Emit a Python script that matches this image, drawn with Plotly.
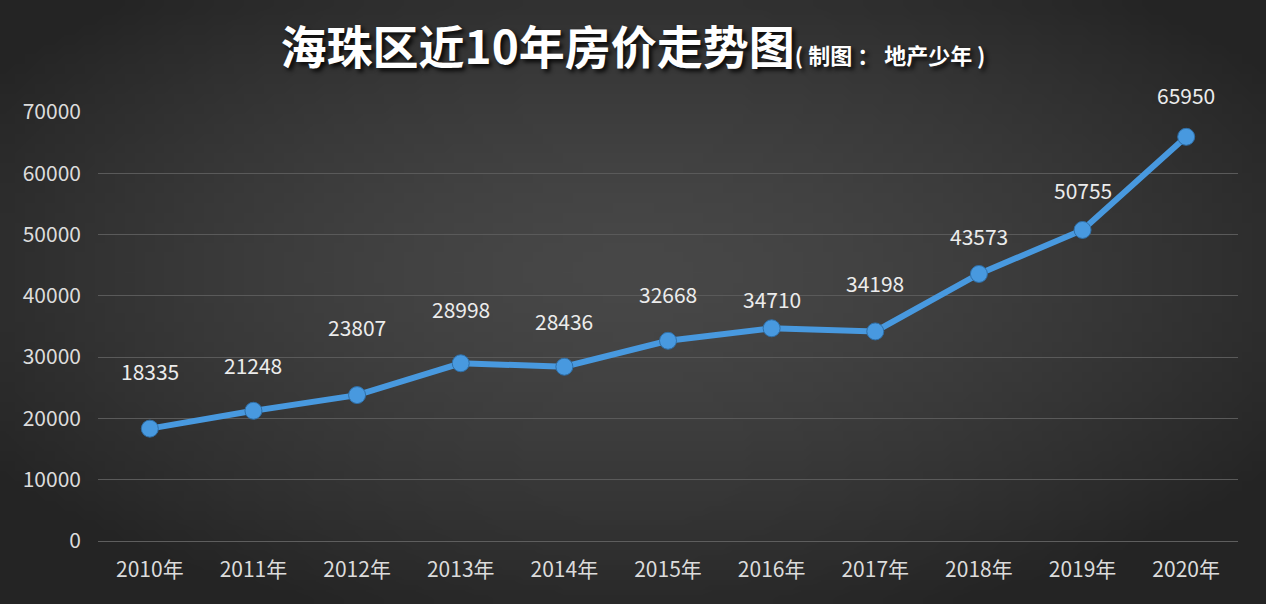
import base64, struct, zlib, math
import plotly.graph_objects as go

# ---- data ----
years = ["2010年", "2011年", "2012年", "2013年", "2014年", "2015年",
         "2016年", "2017年", "2018年", "2019年", "2020年"]
prices = [18335, 21248, 23807, 28998, 28436, 32668, 34710, 34198, 43573, 50755, 65950]
y_ticks = [0, 10000, 20000, 30000, 40000, 50000, 60000, 70000]

# label vertical offsets (px) – styling only
label_shift = [58, 46, 68, 54, 46, 47, 29, 48, 38, 40, 42]

W, H = 1266, 604
ML, MR, MT, MB = 98, 28, 112, 63

# ---- radial gradient background as inline PNG ----
def make_png(w, h):
    raw = bytearray()
    for j in range(h):
        raw.append(0)
        for i in range(w):
            dx = (i / (w - 1) - 0.5) / 0.62
            dy = (j / (h - 1) - 0.45) / 0.62
            d = min(1.0, math.sqrt(dx * dx + dy * dy))
            v = int(72 - (72 - 36) * d ** 1.5)
            raw += bytes((v, v, v))
    def chunk(t, data):
        c = struct.pack(">I", len(data)) + t + data
        return c + struct.pack(">I", zlib.crc32(t + data) & 0xffffffff)
    png = b"\x89PNG\r\n\x1a\n"
    png += chunk(b"IHDR", struct.pack(">IIBBBBB", w, h, 8, 2, 0, 0, 0))
    png += chunk(b"IDAT", zlib.compress(bytes(raw), 9))
    png += chunk(b"IEND", b"")
    return "data:image/png;base64," + base64.b64encode(png).decode()

bg = make_png(127, 61)
FONT = "Noto Sans CJK SC, sans-serif"

fig = go.Figure()
fig.add_trace(go.Scatter(
    x=years, y=prices, mode="lines+markers",
    line=dict(color="#4899DF", width=6),
    marker=dict(color="#4899DF", size=17, line=dict(color="#2f6fa8", width=1)),
    hoverinfo="x+y", showlegend=False,
))

for x, y, s in zip(years, prices, label_shift):
    fig.add_annotation(x=x, y=y, text=str(y), showarrow=False, yshift=s,
                       font=dict(family=FONT, size=21, color="#ececec"))

pw = W - ML - MR
ph = H - MT - MB
fig.add_layout_image(dict(
    source=bg, xref="paper", yref="paper",
    x=-ML / pw, y=1 + MT / ph, sizex=W / pw, sizey=H / ph,
    xanchor="left", yanchor="top", sizing="stretch", layer="below",
))

fig.update_layout(
    width=W, height=H,
    margin=dict(l=ML, r=MR, t=MT, b=MB),
    paper_bgcolor="#333333", plot_bgcolor="rgba(0,0,0,0)",
    title=dict(
        text="<b>海珠区近10年房价走势图</b><span style='font-size:22px'><b>( 制图 ： 地产少年 )</b></span>",
        x=0.5, xanchor="center", xref="container", y=0.92, yanchor="middle",
        font=dict(family=FONT, size=46, color="#ffffff",
                  shadow="3px 3px 4px rgba(0,0,0,0.85)"),
    ),
    xaxis=dict(
        type="category", range=[-0.5, 10.5], showgrid=False,
        showline=True, linecolor="#5e5e5e", linewidth=1, ticks="",
        tickfont=dict(family=FONT, size=21, color="#dcdcdc"),
        ticklabelstandoff=10, fixedrange=True,
    ),
    yaxis=dict(
        range=[0, 70000], tickvals=y_ticks, ticktext=[str(v) for v in y_ticks],
        showgrid=True, gridcolor="#5a5a5a", gridwidth=1, zeroline=False,
        tickfont=dict(family=FONT, size=21, color="#dcdcdc"),
        ticklabelstandoff=16, fixedrange=True,
    ),
    font=dict(family=FONT),
)

fig.write_html("out.html", config={"displayModeBar": False},
               post_script="document.body.style.margin='0';document.body.style.background='#333';")
